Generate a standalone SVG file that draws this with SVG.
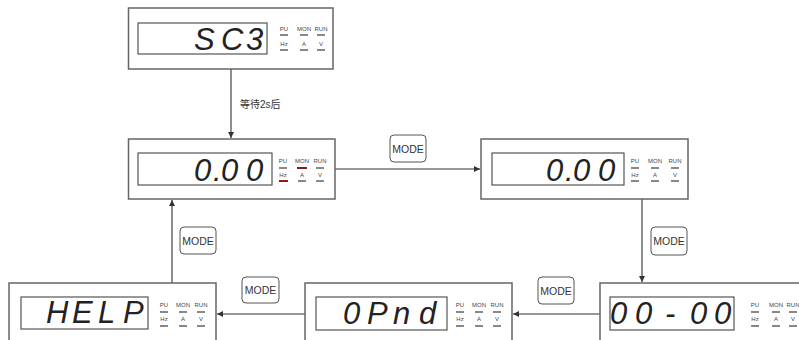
<svg xmlns="http://www.w3.org/2000/svg" width="799" height="340" viewBox="0 0 799 340">
<style>
.outer{fill:#fff;stroke:#666;stroke-width:1.5}
.inner{fill:#fff;stroke:#555;stroke-width:1.2}
.dig{font-family:"Liberation Sans",Arial,sans-serif;font-style:italic;font-size:31px;fill:#222}
.ind{font-family:"Liberation Sans",Arial,sans-serif;font-size:6px;fill:#444;text-anchor:middle}
.bar{fill:#888}
.red{fill:#8b1a1a}
.conn{stroke:#333;stroke-width:1.1;fill:none}
.btn{fill:#fff;stroke:#555;stroke-width:1}
.btnt{font-family:"Liberation Sans",Arial,sans-serif;font-size:10.5px;fill:#333;text-anchor:middle}
.lbl{font-family:"Liberation Sans","Noto Sans CJK SC",sans-serif;font-size:10px;fill:#333}
</style>
<defs>
<marker id="ah" viewBox="0 0 10 10" refX="10" refY="5" markerWidth="8" markerHeight="6" markerUnits="userSpaceOnUse" orient="auto">
<path d="M0,0 L10,5 L0,10 z" fill="#333"/>
</marker>
</defs>
<rect width="799" height="340" fill="#fff"/>

<g id="connectors">
<line class="conn" x1="231" y1="69" x2="231" y2="138" marker-end="url(#ah)"/>
<line class="conn" x1="335" y1="169" x2="480" y2="169" marker-end="url(#ah)"/>
<line class="conn" x1="642" y1="199" x2="642" y2="282" marker-end="url(#ah)"/>
<line class="conn" x1="600" y1="314" x2="513" y2="314" marker-end="url(#ah)"/>
<line class="conn" x1="305" y1="314" x2="217" y2="314" marker-end="url(#ah)"/>
<line class="conn" x1="172" y1="283" x2="172" y2="200" marker-end="url(#ah)"/>
<text class="lbl" x="240" y="108">等待2s后</text>
<g id="btn1"><rect class="btn" x="390" y="135" width="36" height="27" rx="4"/><text class="btnt" x="408" y="152.5">MODE</text></g>
<g id="btn2"><rect class="btn" x="651" y="227" width="36" height="28" rx="4"/><text class="btnt" x="669" y="245">MODE</text></g>
<g id="btn3"><rect class="btn" x="538" y="277" width="36" height="27" rx="4"/><text class="btnt" x="556" y="294.5">MODE</text></g>
<g id="btn4"><rect class="btn" x="242" y="277" width="37" height="26" rx="4"/><text class="btnt" x="260.5" y="294">MODE</text></g>
<g id="btn5"><rect class="btn" x="180" y="227" width="36" height="27" rx="4"/><text class="btnt" x="198" y="244.5">MODE</text></g>
</g>

<g id="node-sc3">
<rect class="outer" x="128.5" y="8" width="204.5" height="61"/>
<rect class="inner" x="138" y="23" width="129" height="31"/>
<text class="dig" x="194 221 246" y="50">SC3</text>
<text class="ind" x="284" y="31">PU</text><rect class="bar" x="280" y="34" width="8" height="2"/>
<text class="ind" x="284" y="46">Hz</text><rect class="bar" x="280" y="49" width="8" height="2"/>
<text class="ind" x="304" y="31">MON</text><rect class="bar" x="300" y="34" width="8" height="2"/>
<text class="ind" x="304" y="46">A</text><rect class="bar" x="300" y="49" width="8" height="2"/>
<text class="ind" x="321" y="31">RUN</text><rect class="bar" x="317" y="34" width="8" height="2"/>
<text class="ind" x="321" y="46">V</text><rect class="bar" x="317" y="49" width="8" height="2"/>
</g>

<g id="node-freq-left">
<rect class="outer" x="128.5" y="139" width="206.5" height="60"/>
<rect class="inner" x="138" y="153" width="134" height="32"/>
<text class="dig" x="194 213 221 246" y="181">0.00</text>
<text class="ind" x="283" y="163">PU</text><rect class="bar" x="279" y="167" width="8" height="2"/>
<text class="ind" x="283" y="177">Hz</text><rect class="red" x="279" y="180" width="9" height="2"/>
<text class="ind" x="302" y="163">MON</text><rect class="red" x="297" y="167" width="10" height="2"/>
<text class="ind" x="302" y="177">A</text><rect class="bar" x="298" y="180" width="8" height="2"/>
<text class="ind" x="320" y="163">RUN</text><rect class="bar" x="316" y="167" width="8" height="2"/>
<text class="ind" x="320" y="177">V</text><rect class="bar" x="316" y="180" width="8" height="2"/>
</g>

<g id="node-freq-right">
<rect class="outer" x="481" y="139" width="207" height="60"/>
<rect class="inner" x="492" y="153" width="132" height="32"/>
<text class="dig" x="546 565 573 598" y="181">0.00</text>
<text class="ind" x="635" y="163">PU</text><rect class="bar" x="631" y="167" width="8" height="2"/>
<text class="ind" x="635" y="177">Hz</text><rect class="bar" x="631" y="180" width="8" height="2"/>
<text class="ind" x="655" y="163">MON</text><rect class="bar" x="651" y="167" width="8" height="2"/>
<text class="ind" x="655" y="177">A</text><rect class="bar" x="651" y="180" width="8" height="2"/>
<text class="ind" x="675" y="163">RUN</text><rect class="bar" x="671" y="167" width="8" height="2"/>
<text class="ind" x="675" y="177">V</text><rect class="bar" x="671" y="180" width="8" height="2"/>
</g>

<g id="node-param">
<rect class="outer" x="600" y="283" width="210" height="70"/>
<rect class="inner" x="610" y="297" width="124" height="33"/>
<text class="dig" x="610 635 665 690 714" y="324">00-00</text>
<text class="ind" x="755" y="307">PU</text><rect class="bar" x="751" y="311" width="8" height="2"/>
<text class="ind" x="755" y="321">Hz</text><rect class="bar" x="751" y="325" width="8" height="2"/>
<text class="ind" x="776" y="307">MON</text><rect class="bar" x="772" y="311" width="8" height="2"/>
<text class="ind" x="776" y="321">A</text><rect class="bar" x="772" y="325" width="8" height="2"/>
<text class="ind" x="793" y="307">RUN</text><rect class="bar" x="789" y="311" width="8" height="2"/>
<text class="ind" x="793" y="321">V</text><rect class="bar" x="789" y="325" width="8" height="2"/>
</g>

<g id="node-opnd">
<rect class="outer" x="305" y="283" width="207" height="70"/>
<rect class="inner" x="316" y="297" width="131" height="33"/>
<text class="dig" x="343 367 393 419" y="324">0Pnd</text>
<text class="ind" x="460" y="307">PU</text><rect class="bar" x="456" y="311" width="8" height="2"/>
<text class="ind" x="460" y="321">Hz</text><rect class="bar" x="456" y="325" width="8" height="2"/>
<text class="ind" x="479" y="307">MON</text><rect class="bar" x="475" y="311" width="8" height="2"/>
<text class="ind" x="479" y="321">A</text><rect class="bar" x="475" y="325" width="8" height="2"/>
<text class="ind" x="497" y="307">RUN</text><rect class="bar" x="493" y="311" width="8" height="2"/>
<text class="ind" x="497" y="321">V</text><rect class="bar" x="493" y="325" width="8" height="2"/>
</g>

<g id="node-help">
<rect class="outer" x="9" y="283" width="207" height="70"/>
<rect class="inner" x="21" y="297" width="127" height="32"/>
<text class="dig" x="46 72 98 123" y="323">HELP</text>
<text class="ind" x="164" y="307">PU</text><rect class="bar" x="160" y="311" width="8" height="2"/>
<text class="ind" x="164" y="321">Hz</text><rect class="bar" x="160" y="325" width="8" height="2"/>
<text class="ind" x="183" y="307">MON</text><rect class="bar" x="179" y="311" width="8" height="2"/>
<text class="ind" x="183" y="321">A</text><rect class="bar" x="179" y="325" width="8" height="2"/>
<text class="ind" x="201" y="307">RUN</text><rect class="bar" x="197" y="311" width="8" height="2"/>
<text class="ind" x="201" y="321">V</text><rect class="bar" x="197" y="325" width="8" height="2"/>
</g>
</svg>
